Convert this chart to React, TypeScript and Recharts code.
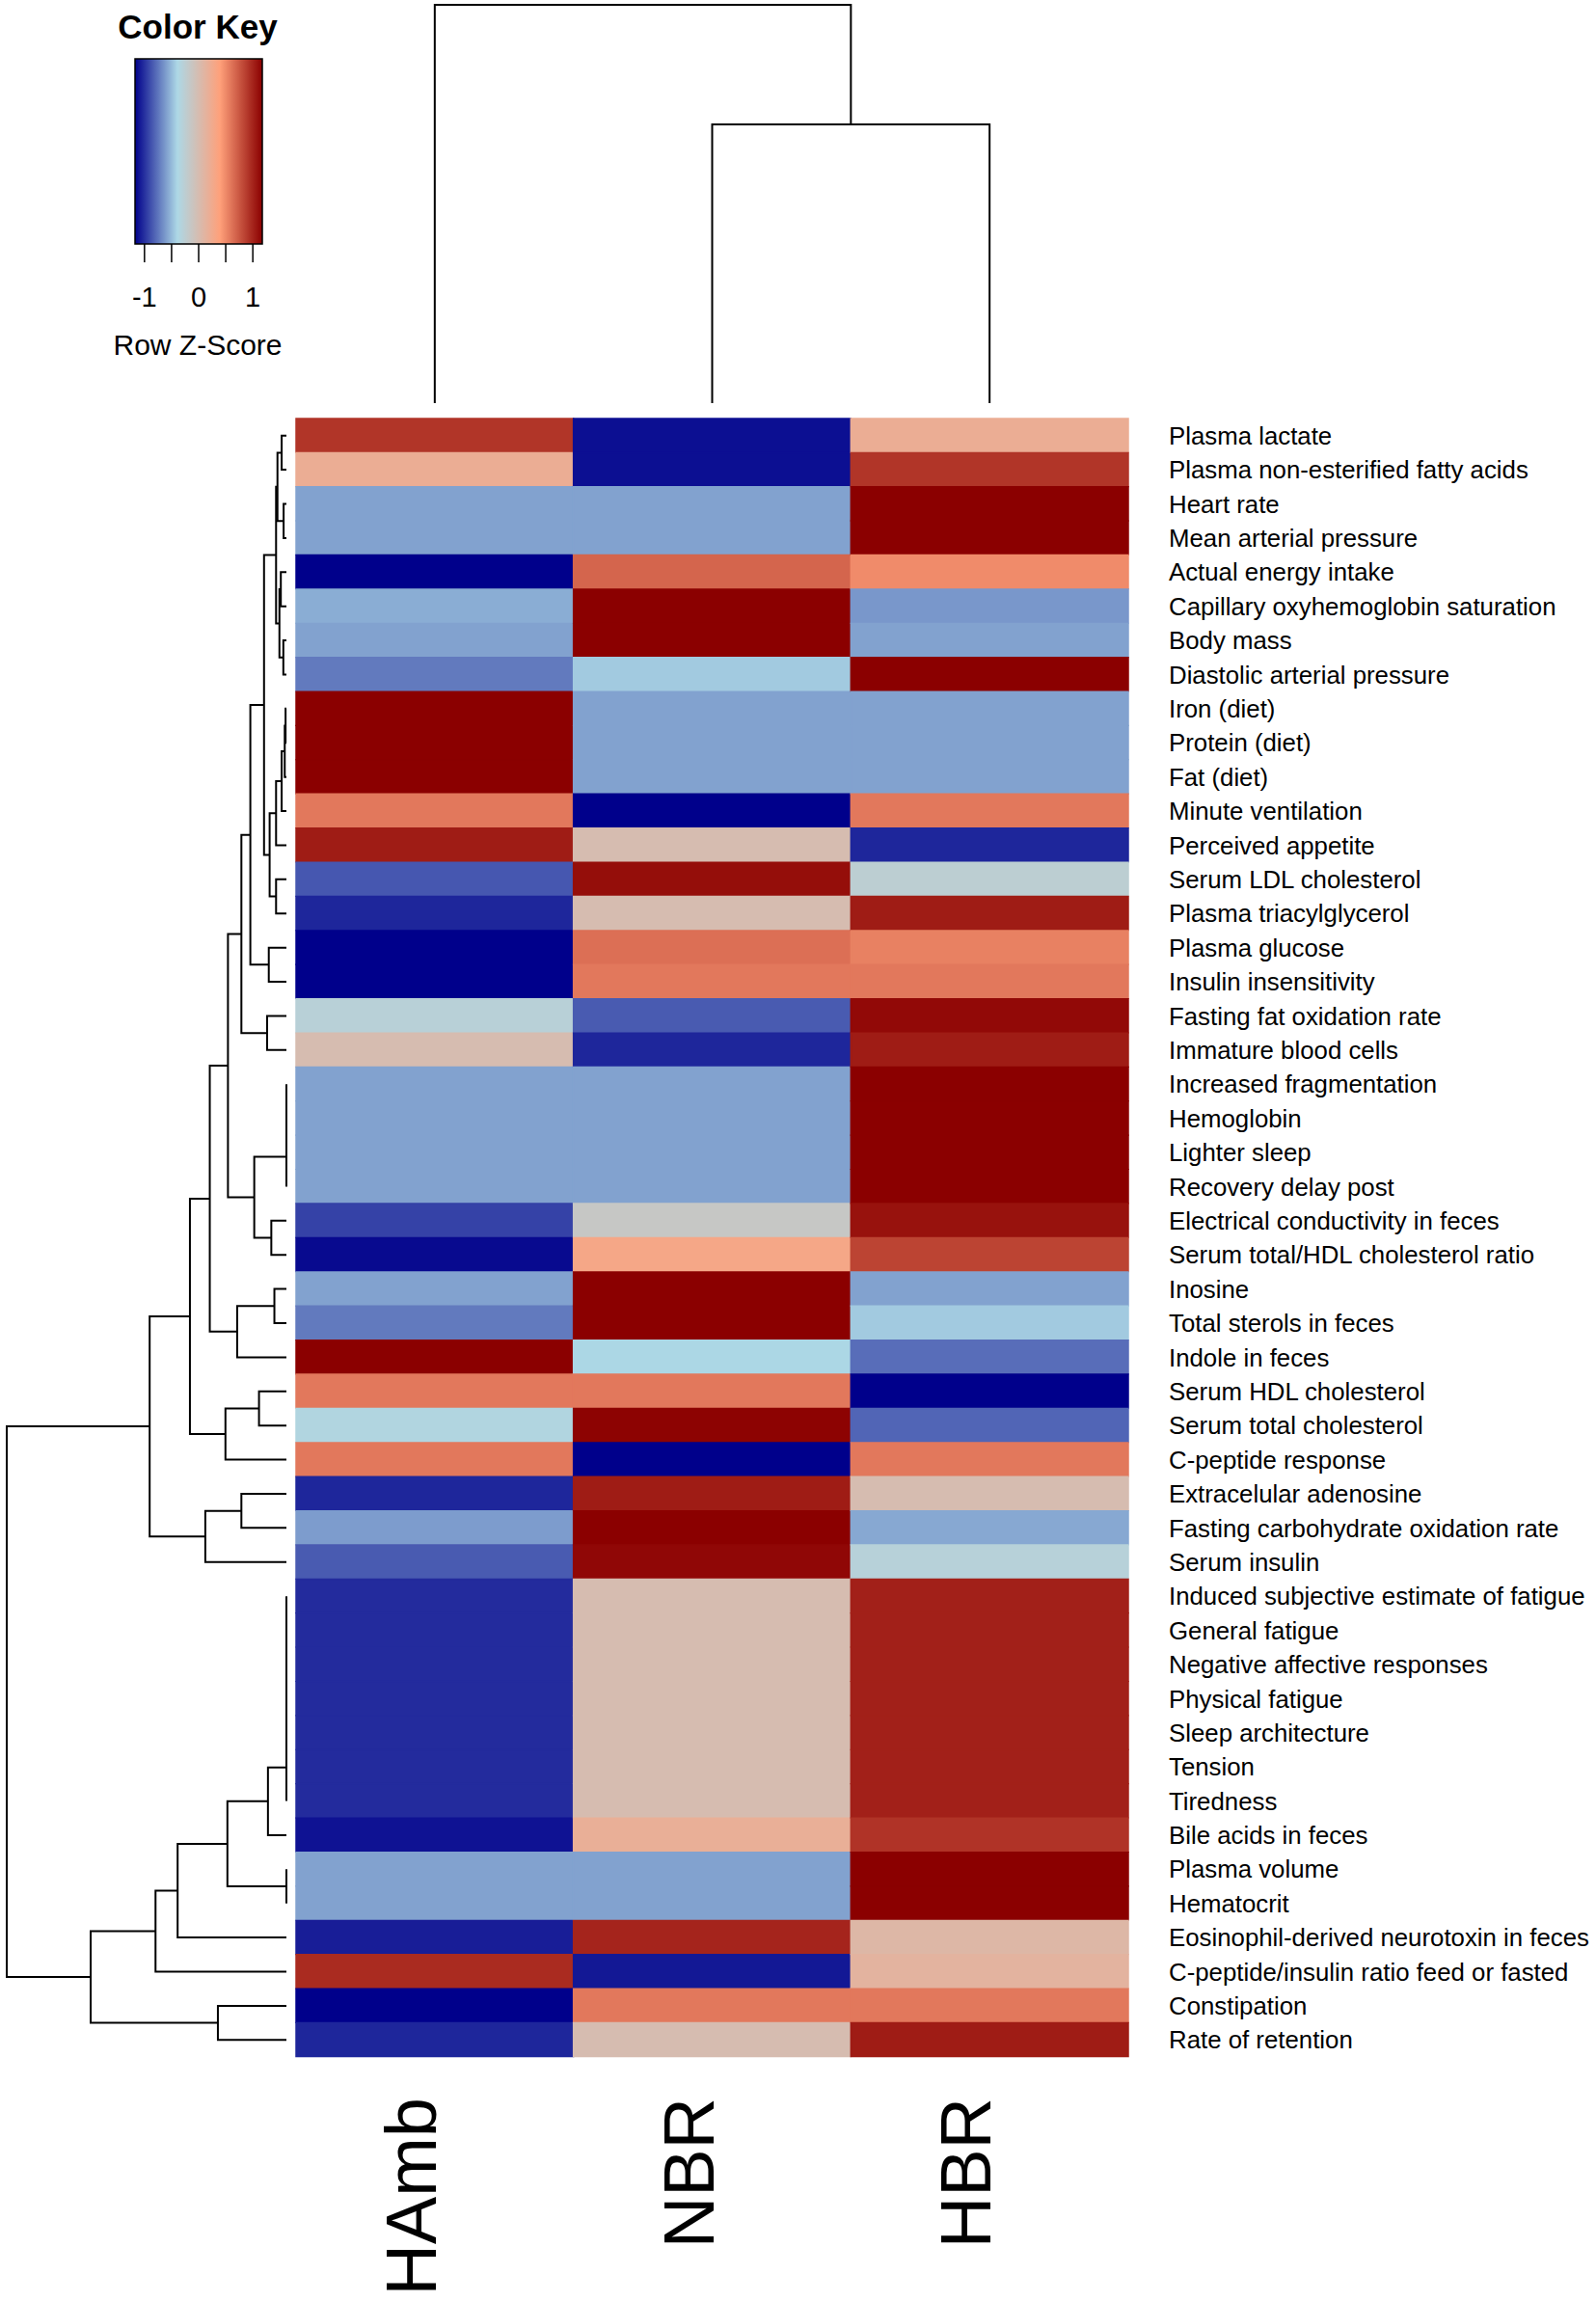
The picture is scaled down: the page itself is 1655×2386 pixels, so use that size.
import React from "react";
import {
  BarChart,
  Bar,
  Cell,
  ScatterChart,
  Scatter,
  ComposedChart,
  ReferenceArea,
  XAxis,
  YAxis,
} from "recharts";

const FONT = '"Liberation Sans", Arial, Helvetica, sans-serif';

// columns of the heatmap (left to right)
const columns = ["HAmb", "NBR", "HBR"];

// rows, top to bottom
const rowLabels = [
  "Plasma lactate",
  "Plasma non-esterified fatty acids",
  "Heart rate",
  "Mean arterial pressure",
  "Actual energy intake",
  "Capillary oxyhemoglobin saturation",
  "Body mass",
  "Diastolic arterial pressure",
  "Iron (diet)",
  "Protein (diet)",
  "Fat (diet)",
  "Minute ventilation",
  "Perceived appetite",
  "Serum LDL cholesterol",
  "Plasma triacylglycerol",
  "Plasma glucose",
  "Insulin insensitivity",
  "Fasting fat oxidation rate",
  "Immature blood cells",
  "Increased fragmentation",
  "Hemoglobin",
  "Lighter sleep",
  "Recovery delay post",
  "Electrical conductivity in feces",
  "Serum total/HDL cholesterol ratio",
  "Inosine",
  "Total sterols in feces",
  "Indole in feces",
  "Serum HDL cholesterol",
  "Serum total cholesterol",
  "C-peptide response",
  "Extracelular adenosine",
  "Fasting carbohydrate oxidation rate",
  "Serum insulin",
  "Induced subjective estimate of fatigue",
  "General fatigue",
  "Negative affective responses",
  "Physical fatigue",
  "Sleep architecture",
  "Tension",
  "Tiredness",
  "Bile acids in feces",
  "Plasma volume",
  "Hematocrit",
  "Eosinophil-derived neurotoxin in feces",
  "C-peptide/insulin ratio feed or fasted",
  "Constipation",
  "Rate of retention",
];

// row z-scores
const zHAmb = [
  0.9, 0.2, -0.577, -0.577, -1.155, -0.54, -0.577, -0.72, 1.155, 1.155, 1.155, 0.577,
  1.02, -0.845, -1.02, -1.155, -1.155, -0.28, 0.0, -0.577, -0.577, -0.577, -0.577, -0.92,
  -1.12, -0.577, -0.72, 1.155, 0.577, -0.345, 0.577, -1.02, -0.6, -0.83, -1.0, -1.0,
  -1.0, -1.0, -1.0, -1.0, -1.0, -1.09, -0.577, -0.577, -1.05, 0.95, -1.155, -1.02,
];
const zNBR = [
  -1.1, -1.1, -0.577, -0.577, 0.67, 1.155, 1.155, -0.435, -0.577, -0.577, -0.577, -1.155,
  0.0, 1.09, 0.0, 0.62, 0.577, -0.83, -1.02, -0.577, -0.577, -0.577, -0.577, -0.15,
  0.29, 1.155, 1.155, -0.39, 0.577, 1.14, -1.155, 1.02, 1.155, 1.12, 0.0, 0.0,
  0.0, 0.0, 0.0, 0.0, 0.0, 0.18, -0.577, -0.577, 0.98, -1.07, 0.577, 0.0,
];
const zHBR = [
  0.2, 0.9, 1.155, 1.155, 0.485, -0.615, -0.577, 1.155, -0.577, -0.577, -0.577, 0.577,
  -1.02, -0.245, 1.02, 0.535, 0.577, 1.11, 1.02, 1.155, 1.155, 1.155, 1.155, 1.07,
  0.83, -0.577, -0.435, -0.765, -1.155, -0.795, 0.577, 0.0, -0.555, -0.29, 1.0, 1.0,
  1.0, 1.0, 1.0, 1.0, 1.0, 0.91, 1.155, 1.155, 0.07, 0.12, 0.577, 1.02,
];

// row dendrogram: [left, right, height]; numbers are rows, "m#" are earlier merges
const rowMerges: [number | string, number | string, number][] = [
  [0, 1, 0.017],
  [2, 3, 0.01],
  ["m0", "m1", 0.032],
  [4, 5, 0.02],
  [6, 7, 0.011],
  ["m3", "m4", 0.025],
  ["m2", "m5", 0.037],
  [8, 9, 0.003],
  ["m7", 10, 0.006],
  ["m8", 11, 0.017],
  ["m9", 12, 0.037],
  [13, 14, 0.037],
  ["m10", "m11", 0.06],
  ["m6", "m12", 0.08],
  [15, 16, 0.063],
  ["m13", "m14", 0.129],
  [17, 18, 0.069],
  ["m15", "m16", 0.161],
  [19, 20, 0],
  ["m18", 21, 0],
  ["m19", 22, 0],
  [23, 24, 0.054],
  ["m20", "m21", 0.115],
  ["m17", "m22", 0.209],
  [25, 26, 0.043],
  ["m24", 27, 0.176],
  ["m23", "m25", 0.274],
  [28, 29, 0.098],
  ["m27", 30, 0.218],
  ["m26", "m28", 0.345],
  [31, 32, 0.161],
  ["m30", 33, 0.29],
  ["m29", "m31", 0.489],
  [34, 35, 0],
  ["m33", 36, 0],
  ["m34", 37, 0],
  ["m35", 38, 0],
  ["m36", 39, 0],
  ["m37", 40, 0],
  ["m38", 41, 0.066],
  [42, 43, 0],
  ["m39", "m40", 0.211],
  ["m41", 44, 0.389],
  ["m42", 45, 0.468],
  [46, 47, 0.245],
  ["m43", "m44", 0.7],
  ["m32", "m45", 1.0],
];

// column dendrogram
const colMerges: [number | string, number | string, number][] = [
  [1, 2, 0.7],
  [0, "m0", 1.0],
];

const keyTicks = [-1, -0.5, 0, 0.5, 1];

// heatmap.2 style palette: darkblue -> lightblue -> lightsalmon -> darkred
const ZMAX = 1.155;
const stops = [
  [0, 0, 139],
  [173, 216, 230],
  [255, 160, 122],
  [139, 0, 0],
];
function zColor(z: number) {
  const t = Math.max(0, Math.min(1, (z + ZMAX) / (2 * ZMAX))) * 3;
  const i = Math.min(2, Math.floor(t));
  const f = t - i;
  const c = stops[i].map((v, k) => Math.round(v + (stops[i + 1][k] - v) * f));
  return `rgb(${c[0]},${c[1]},${c[2]})`;
}

function dendroSegments(merges: [number | string, number | string, number][]) {
  const nodes: Record<string, { p: number; h: number }> = {};
  const get = (id: number | string) =>
    typeof id === "number" ? { p: id + 0.5, h: 0 } : nodes[id];
  return merges.map(([a, b, h], i) => {
    const A = get(a);
    const B = get(b);
    nodes["m" + i] = { p: (A.p + B.p) / 2, h };
    return [
      { h: A.h, p: A.p },
      { h, p: A.p },
      { h, p: B.p },
      { h: B.h, p: B.p },
    ];
  });
}

const heatData = rowLabels.map((label, i) => ({
  label,
  HAmb: 1,
  NBR: 1,
  HBR: 1,
  z: [zHAmb[i], zNBR[i], zHBR[i]],
}));

const noShape = () => <g />;

function ColTick(props: any) {
  const { x, y, payload } = props;
  const label = columns[Math.floor(payload.value)];
  const bx = x + 1;
  return (
    <text
      x={bx}
      y={y}
      transform={`rotate(-90 ${bx} ${y})`}
      textAnchor="end"
      fontSize={74}
      fontFamily={FONT}
      fill="#000"
    >
      {label}
    </text>
  );
}

function Heatmap() {
  return (
    <BarChart
      width={1655}
      height={2386}
      layout="vertical"
      data={heatData}
      margin={{ top: 434, right: 0, bottom: 0, left: 307 }}
      barCategoryGap={0}
      barGap={0}
    >
      <XAxis
        type="number"
        domain={[0, 3]}
        ticks={[0.5, 1.5, 2.5]}
        height={253}
        axisLine={false}
        tickLine={false}
        tickSize={0}
        tickMargin={42}
        interval={0}
        tick={<ColTick />}
      />
      <YAxis
        type="category"
        dataKey="label"
        orientation="right"
        width={485}
        axisLine={false}
        tickLine={false}
        tickSize={0}
        tickMargin={42}
        interval={0}
        tick={{ fontSize: 25.8, fill: "#000", fontFamily: FONT }}
      />
      {columns.map((col, j) => (
        <Bar key={col} dataKey={col} stackId="cells" isAnimationActive={false}>
          {heatData.map((d, i) => (
            <Cell
              key={i}
              fill={zColor(d.z[j])}
              stroke={zColor(d.z[j])}
              strokeWidth={1.5}
            />
          ))}
        </Bar>
      ))}
    </BarChart>
  );
}

function RowDendrogram() {
  const segs = dendroSegments(rowMerges);
  return (
    <ScatterChart
      width={310}
      height={2386}
      margin={{ top: 434, right: 13, bottom: 253, left: 7 }}
    >
      <XAxis type="number" dataKey="h" domain={[0, 1]} reversed hide />
      <YAxis type="number" dataKey="p" domain={[0, 48]} reversed hide />
      {segs.map((s, i) => (
        <Scatter
          key={i}
          data={s}
          line={{ stroke: "#000", strokeWidth: 2 }}
          shape={noShape}
          isAnimationActive={false}
        />
      ))}
    </ScatterChart>
  );
}

function ColDendrogram() {
  const segs = dendroSegments(colMerges);
  return (
    <ScatterChart
      width={1655}
      height={440}
      margin={{ top: 5, right: 485, bottom: 22, left: 307 }}
    >
      <XAxis type="number" dataKey="p" domain={[0, 3]} hide />
      <YAxis type="number" dataKey="h" domain={[0, 1]} hide />
      {segs.map((s, i) => (
        <Scatter
          key={i}
          data={s}
          line={{ stroke: "#000", strokeWidth: 2 }}
          shape={noShape}
          isAnimationActive={false}
        />
      ))}
    </ScatterChart>
  );
}

function ColorKey() {
  return (
    <ComposedChart
      width={330}
      height={400}
      data={keyTicks.map((v) => ({ v, y: 0 }))}
      margin={{ top: 61, right: 58, bottom: 0, left: 140 }}
    >
      <defs>
        <linearGradient id="zkey" x1="0" y1="0" x2="1" y2="0">
          <stop offset="0%" stopColor="rgb(0,0,139)" />
          <stop offset="33.3%" stopColor="rgb(173,216,230)" />
          <stop offset="66.7%" stopColor="rgb(255,160,122)" />
          <stop offset="100%" stopColor="rgb(139,0,0)" />
        </linearGradient>
      </defs>
      <XAxis
        type="number"
        dataKey="v"
        domain={[-1.175, 1.175]}
        ticks={keyTicks}
        interval={0}
        height={147}
        axisLine={false}
        tickLine={{ stroke: "#000", strokeWidth: 1.5 }}
        tickSize={19}
        tickMargin={25}
        tickFormatter={(v: number) => (Number.isInteger(v) ? String(v) : "")}
        tick={{ fontSize: 29, fill: "#000", fontFamily: FONT }}
      />
      <YAxis type="number" dataKey="y" domain={[0, 1]} hide />
      <ReferenceArea
        x1={-1.175}
        x2={1.175}
        y1={0}
        y2={1}
        fill="url(#zkey)"
        fillOpacity={1}
        stroke="#000"
        strokeWidth={1.5}
        ifOverflow="visible"
      />
      <Scatter dataKey="y" shape={noShape} isAnimationActive={false} />
      <text
        x={205}
        y={27}
        textAnchor="middle"
        dominantBaseline="central"
        fontSize={35}
        fontWeight="bold"
        fontFamily={FONT}
        fill="#000"
      >
        Color Key
      </text>
      <text
        x={205}
        y={357}
        textAnchor="middle"
        dominantBaseline="central"
        fontSize={30}
        fontFamily={FONT}
        fill="#000"
      >
        Row Z-Score
      </text>
    </ComposedChart>
  );
}

export default function App() {
  return (
    <div
      style={{
        position: "absolute",
        left: 0,
        top: 0,
        width: 1655,
        height: 2386,
        background: "#fff",
        overflow: "hidden",
      }}
    >
      <div style={{ position: "absolute", left: 0, top: 0 }}>
        <Heatmap />
      </div>
      <div style={{ position: "absolute", left: 0, top: 0 }}>
        <RowDendrogram />
      </div>
      <div style={{ position: "absolute", left: 0, top: 0 }}>
        <ColDendrogram />
      </div>
      <div style={{ position: "absolute", left: 0, top: 0 }}>
        <ColorKey />
      </div>
    </div>
  );
}
